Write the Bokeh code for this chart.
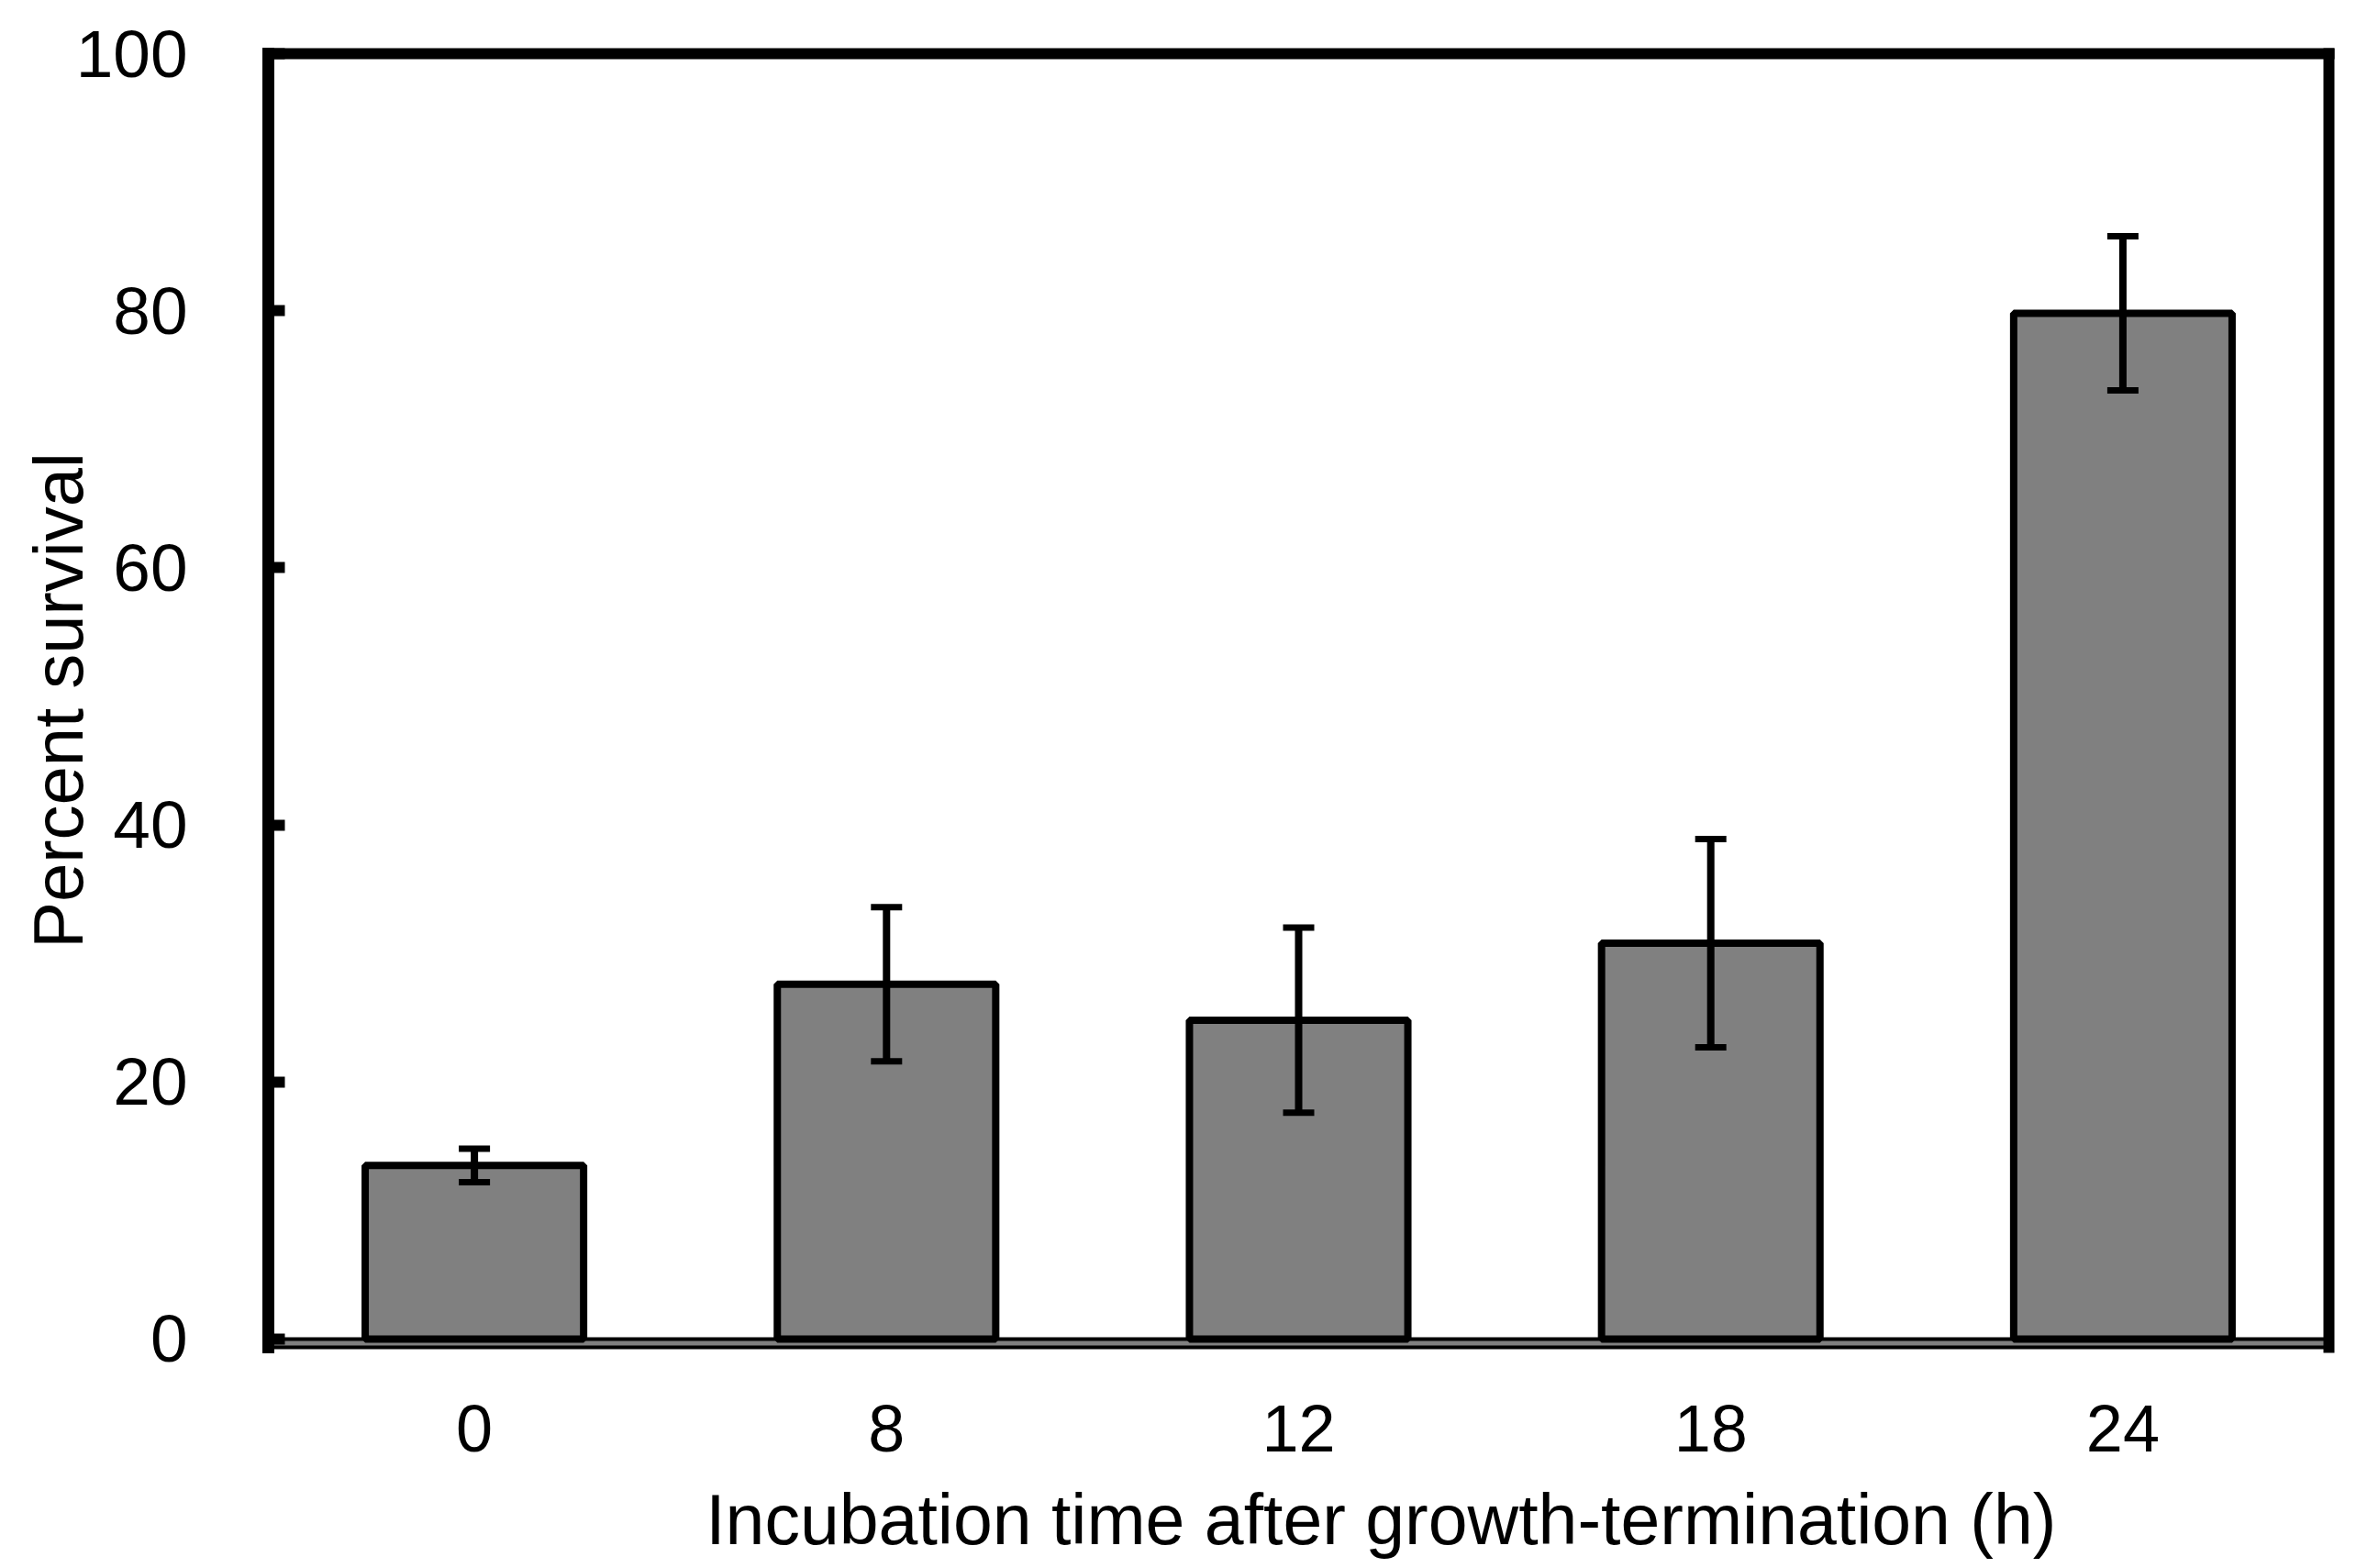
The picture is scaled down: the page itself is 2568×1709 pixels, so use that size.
from bokeh.plotting import figure
from bokeh.models import (Range1d, FixedTicker, LinearAxis, Whisker, TeeHead,
                          ColumnDataSource, Span, BoxAnnotation)
from bokeh.embed import file_html
from bokeh.resources import INLINE

categories = ["0", "8", "12", "18", "24"]
survival = [13.5, 27.6, 24.8, 30.8, 79.8]
errors = [1.3, 6.0, 7.2, 8.1, 6.0]
y_ticks = [0, 20, 40, 60, 80, 100]
x_title = "Incubation time after growth-termination (h)"
y_title = "Percent survival"

x = list(range(len(categories)))
src = ColumnDataSource(dict(
    x=x,
    top=survival,
    upper=[v + e for v, e in zip(survival, errors)],
    lower=[v - e for v, e in zip(survival, errors)],
))

FONT = "Liberation Sans"
TITLE_POS = 2.2   # the x-axis title sits right of centre in the original

p = figure(width=2552, height=1701, output_backend="svg", toolbar_location=None,
           x_range=Range1d(-0.5, 4.5), y_range=Range1d(-0.65, 100),
           min_border_left=292, min_border_right=14, min_border_top=58,
           min_border_bottom=228,
           y_axis_label=y_title)
p.outline_line_color = None
p.grid.visible = False
p.background_fill_color = "white"
p.border_fill_color = "white"

p.add_layout(BoxAnnotation(top=0, fill_color="#808080", fill_alpha=1.0,
                           line_color=None, level="underlay"))
p.add_layout(Span(location=0, dimension="width", line_color="black",
                  line_width=4, level="underlay"))

p.vbar(x="x", top="top", bottom=0, width=0.53, fill_color="#808080",
       line_color="black", line_width=8, source=src)

p.add_layout(Whisker(base="x", upper="upper", lower="lower", source=src,
                     line_width=8, line_color="black", level="overlay",
                     upper_head=TeeHead(size=34, line_width=7, line_color="black"),
                     lower_head=TeeHead(size=34, line_width=7, line_color="black")))

xa = p.xaxis[0]
xa.ticker = FixedTicker(ticks=x)
xa.major_label_overrides = {i: c for i, c in zip(x, categories)}
xa.axis_line_width = 4
xa.axis_line_color = "black"
xa.major_tick_line_color = None
xa.minor_tick_line_color = None
xa.major_label_text_font = FONT
xa.major_label_text_font_size = "72px"
xa.major_label_text_color = "black"
xa.major_label_standoff = 57

# x-axis title, carried by a second bare axis so that it can sit off-centre
xt = LinearAxis(ticker=FixedTicker(ticks=[TITLE_POS]),
                major_label_overrides={TITLE_POS: x_title},
                axis_line_color=None, major_tick_line_color=None,
                minor_tick_line_color=None, major_tick_in=0, major_tick_out=0,
                minor_tick_in=0, minor_tick_out=0, major_label_standoff=28,
                major_label_text_font=FONT, major_label_text_font_size="77px",
                major_label_text_color="black")
p.add_layout(xt, "below")

ya = p.yaxis[0]
ya.ticker = FixedTicker(ticks=y_ticks)
ya.axis_line_width = 13
ya.axis_line_color = "black"
ya.axis_line_cap = "square"
ya.major_tick_in = 18
ya.major_tick_out = 0
ya.major_tick_line_width = 12
ya.major_tick_line_color = "black"
ya.minor_tick_line_color = None
ya.major_label_text_font = FONT
ya.major_label_text_font_size = "73px"
ya.major_label_text_color = "black"
ya.major_label_standoff = 88
ya.axis_label_text_font = FONT
ya.axis_label_text_font_size = "76px"
ya.axis_label_text_font_style = "normal"
ya.axis_label_text_color = "black"
ya.axis_label_standoff = -26

for side in ("above", "right"):
    ax = LinearAxis(ticker=FixedTicker(ticks=[]), axis_line_width=12,
                    axis_line_color="black", axis_line_cap="square",
                    major_label_text_font_size="0px", major_tick_in=0,
                    major_tick_out=0, minor_tick_in=0, minor_tick_out=0,
                    major_label_standoff=0)
    p.add_layout(ax, side)

open("out.html", "w").write(file_html(p, INLINE))
